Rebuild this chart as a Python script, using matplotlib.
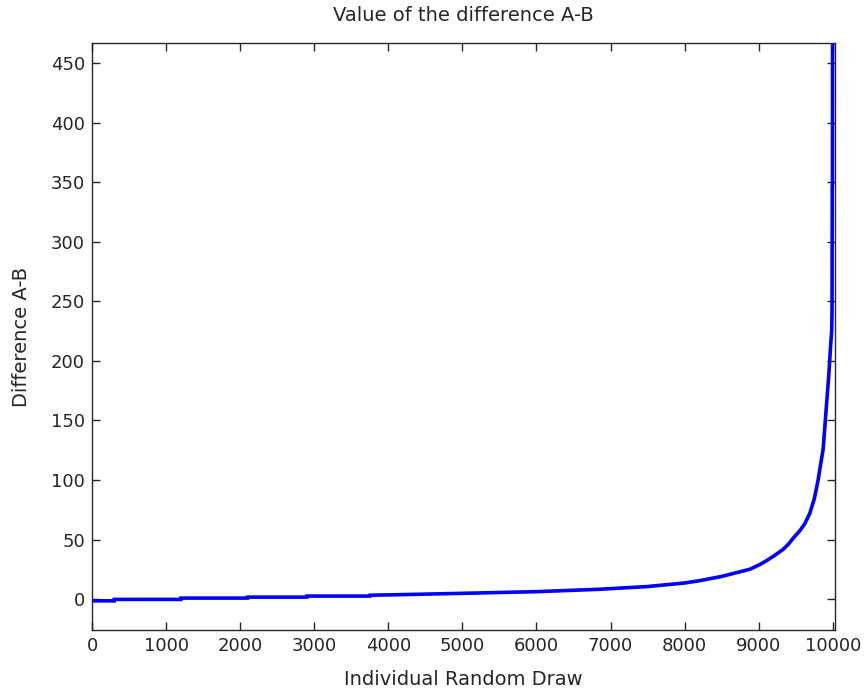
import matplotlib
matplotlib.use("Agg")
import matplotlib.pyplot as plt

draw_index = [1, 300, 301, 1200, 1201, 2100, 2101, 2900, 2901, 3750, 3751, 4100,
              5000, 6000, 6850, 7500, 8000, 8200, 8500, 8880, 9015, 9100, 9200, 9325,
              9400, 9464, 9550, 9620, 9690, 9750, 9802, 9870, 9914, 9945, 9968, 9985, 9990, 9993,
              9996, 9998, 10000]
difference = [-1.5, -1.5, -0.3, -0.3, 0.8, 0.8, 1.6, 1.6, 2.5, 2.5, 3.2, 3.6,
              4.8, 6.2, 8.2, 10.5, 13.5, 15.4, 19.0, 25.0, 29.0, 32.0, 36.0, 41.5,
              46.0, 51.0, 57.0, 63.0, 72.0, 84.0, 100.0, 126.0, 162.0, 187.0, 210.0, 225.0, 240.0, 345.0,
              350.0, 600.0, 1500.0]

xticks = list(range(0, 10001, 1000))
yticks = list(range(0, 451, 50))

plt.rcParams['font.family'] = ['DejaVu Sans']
fig = plt.figure(figsize=(8.67, 6.96), dpi=100)
ax = fig.add_axes([92/867, 66/696, (835-92)/867, (630-43)/696])
ax.plot(draw_index, difference, color='#0000ff', linewidth=2.6, solid_joinstyle='miter')
ax.set_xlim(0, 10030)
ax.set_ylim(-26, 467)
ax.set_xticks(xticks)
ax.set_yticks(yticks)
ax.tick_params(direction='in', length=6, width=1, top=True, right=True,
               labelsize=13, pad=5, colors='#262626')
for s in ax.spines.values():
    s.set_linewidth(1)
    s.set_color('#262626')
ax.set_title('Value of the difference A-B', fontsize=14, pad=16, color='#262626')
ax.set_xlabel('Individual Random Draw', fontsize=14, labelpad=11, color='#262626')
ax.set_ylabel('Difference A-B', fontsize=14, labelpad=14, color='#262626')
fig.savefig('out.png', dpi=100)
